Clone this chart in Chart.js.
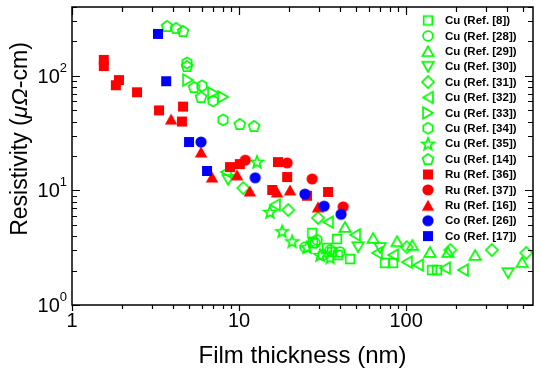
<!DOCTYPE html>
<html><head><meta charset="utf-8">
<script src="https://cdn.jsdelivr.net/npm/chart.js@4.4.1/dist/chart.umd.min.js"></script>
<style>html,body{margin:0;padding:0;background:#fff;}canvas{display:block;}</style>
</head><body>
<div style="width:541px;height:378px;position:relative"><canvas id="c" width="541" height="378"></canvas></div>
<script>
// ---------- data (film thickness nm, resistivity µΩ-cm) ----------
const cuRef8  = [[27.4,4.25],[27.7,3.48],[38.6,3.77],[33.6,3.15],[36.0,2.9],[39.0,2.73],[46.2,2.52],[74.8,2.33],[83.6,2.33],[143,2.02],[153,2.02]];
const cuRef28 = [[28.5,3.48],[35.1,3.02],[40.2,2.9],[31.8,2.73],[29.3,3.7],[24.8,3.2]];
const cuRef29 = [[43.1,4.8],[63.5,3.85],[88.3,3.6],[109,3.34],[139,2.9],[178,2.9],[259,2.73],[495,2.37]];
const cuRef30 = [[8.6,12.4],[51.6,3.2],[69.9,3.15],[408,1.9]];
const cuRef31 = [[10.6,10.5],[19.7,6.76],[29.7,5.75],[101,3.2],[184,3.02],[326,3.02],[524,2.85]];
const cuRef32 = [[8.36,14.5],[16.4,7.5],[34.1,5.3],[49.5,4.1],[67,2.85],[83.6,2.73],[101,2.37],[118,2.23],[171,2.1],[219,2.02]];
const cuRef33 = [[4.95,92],[6.99,71],[8.02,65.6]];
const cuRef34 = [[4.88,130],[6.0,82],[6.99,60.5],[8.02,41.3]];
const cuRef35 = [[12.8,17.8],[15.3,6.5],[18.1,4.4],[20.8,3.6],[25.5,3.2],[30.5,2.73],[35.1,2.6]];
const cuRef14 = [[3.71,273],[4.2,263],[4.62,247],[4.88,122],[5.38,80],[5.92,65.6],[10.1,38.1],[12.3,36.6]];
const ruRef36 = [[1.55,138],[1.55,122],[1.91,92],[1.83,83],[2.45,72],[3.32,50],[4.62,54],[4.55,40],[8.83,16],[10.1,17],[17.1,17.7],[19.4,13.1],[15.8,10.1],[25.5,9.0],[34.1,9.7]];
const ruRef37 = [[10.9,18.4],[19.4,17.4],[27.4,12.6],[42,7.2]];
const ruRef16 = [[3.92,42],[5.92,21.7],[6.89,13.1],[9.73,13.7],[11.6,9.9],[16.9,9.7],[20.2,10.1],[29.7,7.2]];
const coRef26 = [[5.92,26.5],[12.5,12.9],[24.8,9.3],[32.3,7.3],[40.8,6.2]];
const coRef17 = [[3.27,233],[3.66,90],[5.02,26.5],[6.43,14.8]];

const seriesLabels = ['Cu (Ref. [8])','Cu (Ref. [28])','Cu (Ref. [29])','Cu (Ref. [30])','Cu (Ref. [31])','Cu (Ref. [32])','Cu (Ref. [33])','Cu (Ref. [34])','Cu (Ref. [35])','Cu (Ref. [14])','Ru (Ref. [36])','Ru (Ref. [37])','Ru (Ref. [16])','Co (Ref. [26])','Co (Ref. [17])'];
const seriesData = [cuRef8,cuRef28,cuRef29,cuRef30,cuRef31,cuRef32,cuRef33,cuRef34,cuRef35,cuRef14,ruRef36,ruRef37,ruRef16,coRef26,coRef17];

const xTickValues = [1,10,100];
const xTickLabels = ['1','10','100'];
const yTickValues = [1,10,100];
const yTickExponents = ['0','1','2'];
const xTitle = 'Film thickness (nm)';
const yTitleParts = [['Resistivity (',false],['\u03BC\u03A9',true],['-cm)',false]];

// ---------- styles ----------
const GREEN='#00ff00', RED='#ff0000', BLUE='#0000ff';
const seriesStyle = [
  ['square',GREEN,false],['circle',GREEN,false],['up',GREEN,false],['down',GREEN,false],['diamond',GREEN,false],
  ['left',GREEN,false],['right',GREEN,false],['hexagon',GREEN,false],['star',GREEN,false],['pentagon',GREEN,false],
  ['square',RED,true],['circle',RED,true],['up',RED,true],['circle',BLUE,true],['square',BLUE,true]
];
const seriesOrder = [2,2,2,2,2,2,2,2,2,2,1,1,1,0,0];

function polyPts(n,R,startDeg){const p=[];for(let i=0;i<n;i++){const a=(startDeg+i*360/n)*Math.PI/180;p.push([R*Math.cos(a),R*Math.sin(a)]);}return p;}
function starPts(R,r){const p=[];for(let i=0;i<10;i++){const a=(-90+i*36)*Math.PI/180;const rr=i%2?r:R;p.push([rr*Math.cos(a),rr*Math.sin(a)]);}return p;}
function makeMarker(shape,color,filled){
  const S=22,c=document.createElement('canvas');c.width=S;c.height=S;
  const g=c.getContext('2d');g.translate(S/2,S/2);g.beginPath();
  if(shape==='square'){const s=filled?10:8.6;g.rect(-s/2,-s/2,s,s);}
  else if(shape==='circle'){g.arc(0,0,filled?5.6:4.9,0,Math.PI*2);}
  else{
    let pts;
    const tr=filled?7.2:6.6;
    switch(shape){
      case 'up':pts=polyPts(3,tr,-90);break;
      case 'down':pts=polyPts(3,tr,90);break;
      case 'left':pts=polyPts(3,tr,180);break;
      case 'right':pts=polyPts(3,tr,0);break;
      case 'diamond':pts=polyPts(4,6.0,-90);break;
      case 'hexagon':pts=polyPts(6,5.4,-90);break;
      case 'pentagon':pts=polyPts(5,5.7,-90);break;
      case 'star':pts=starPts(6.4,2.7);break;
    }
    let mnx=1e9,mxx=-1e9,mny=1e9,mxy=-1e9;
    pts.forEach(p=>{mnx=Math.min(mnx,p[0]);mxx=Math.max(mxx,p[0]);mny=Math.min(mny,p[1]);mxy=Math.max(mxy,p[1]);});
    const ox=(mnx+mxx)/2,oy=(mny+mxy)/2;
    pts.forEach((p,i)=>{if(i)g.lineTo(p[0]-ox,p[1]-oy);else g.moveTo(p[0]-ox,p[1]-oy);});
    g.closePath();
  }
  if(filled){g.fillStyle=color;g.fill();}
  else{g.strokeStyle=color;g.lineWidth=1.7;g.lineJoin='miter';g.stroke();}
  return c;
}
const markers = seriesStyle.map(s=>makeMarker(s[0],s[1],s[2]));

const FONT='"Liberation Sans", Arial, Helvetica, sans-serif';

const decor = {
  id:'decor',
  afterDraw(chart){
    const ctx=chart.ctx, a=chart.chartArea, xs=chart.scales.x, ys=chart.scales.y;
    ctx.save();
    ctx.strokeStyle='#000';ctx.fillStyle='#000';
    // ticks
    ctx.lineWidth=1.2;
    ctx.beginPath();
    for(let d=1; d<=100; d*=10){
      for(let m=1;m<=9;m++){
        const v=m*d; if(v>xs.max) break;
        const px=Math.round(xs.getPixelForValue(v))+0.5;
        const maj=(m===1);
        ctx.moveTo(px,a.bottom); ctx.lineTo(px,a.bottom+(maj?6:4));
        ctx.moveTo(px,a.top); ctx.lineTo(px,a.top+(maj?8:5));
      }
    }
    for(let d=1; d<=100; d*=10){
      for(let m=1;m<=9;m++){
        const v=m*d; if(v>ys.max) break;
        const py=Math.round(ys.getPixelForValue(v))+0.5;
        const maj=(m===1);
        ctx.moveTo(a.left,py); ctx.lineTo(a.left+(maj?8:5),py);
        ctx.moveTo(a.right,py); ctx.lineTo(a.right-(maj?8:5),py);
      }
    }
    ctx.stroke();
    // frame
    ctx.lineWidth=1.5;
    ctx.strokeRect(a.left,a.top,a.right-a.left,a.bottom-a.top);
    // x tick labels
    ctx.font='20px '+FONT;ctx.textAlign='center';ctx.textBaseline='alphabetic';
    xTickValues.forEach((v,i)=>{ctx.fillText(xTickLabels[i],xs.getPixelForValue(v),a.bottom+22);});
    // y tick labels with superscripts
    yTickValues.forEach((v,i)=>{
      const py=ys.getPixelForValue(v);
      ctx.font='13px '+FONT; const sw=ctx.measureText(yTickExponents[i]).width;
      const right=67;
      ctx.textAlign='right';
      ctx.fillText(yTickExponents[i],right,py-4);
      ctx.font='20px '+FONT;
      ctx.fillText('10',right-sw,py+7);
    });
    // x title
    ctx.font='24px '+FONT;ctx.textAlign='center';
    ctx.fillText(xTitle,(a.left+a.right)/2,363);
    // y title (rotated, mixed italic)
    ctx.save();
    ctx.translate(27,139);ctx.rotate(-Math.PI/2);
    let total=0; const widths=[];
    yTitleParts.forEach(p=>{ctx.font=(p[1]?'italic ':'')+'23px '+FONT;const w=ctx.measureText(p[0]).width;widths.push(w);total+=w;});
    let x=-total/2; ctx.textAlign='left';
    yTitleParts.forEach((p,i)=>{ctx.font=(p[1]?'italic ':'')+'23px '+FONT;ctx.fillText(p[0],x,0);x+=widths[i];});
    ctx.restore();
    // legend
    ctx.font='bold 11.5px '+FONT;ctx.textAlign='left';ctx.textBaseline='middle';
    seriesLabels.forEach((lab,i)=>{
      const y=20.5+i*15.4;
      const mk=markers[i];
      ctx.drawImage(mk,428-mk.width/2,y-mk.height/2);
      ctx.fillStyle='#000';
      ctx.fillText(lab,445,y+0.5);
    });
    ctx.restore();
  }
};

new Chart(document.getElementById('c'),{
  type:'scatter',
  data:{datasets:seriesData.map((d,i)=>({
    label:seriesLabels[i],
    data:d.map(p=>({x:p[0],y:p[1]})),
    pointStyle:markers[i],
    pointRadius:6,pointHoverRadius:6,
    order:seriesOrder[i]
  }))},
  options:{
    responsive:false,animation:false,events:[],
    layout:{padding:{left:72,top:7,right:8,bottom:73}},
    plugins:{legend:{display:false},tooltip:{enabled:false}},
    scales:{
      x:{type:'logarithmic',min:1,max:575,display:false},
      y:{type:'logarithmic',min:1,max:400,display:false}
    }
  },
  plugins:[decor]
});
</script>
</body></html>
